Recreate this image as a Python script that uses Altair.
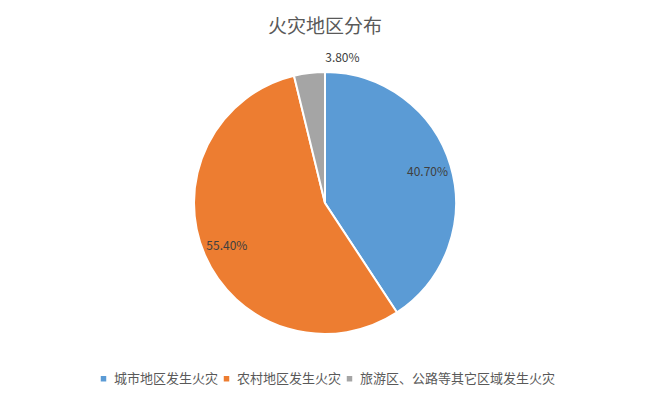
import altair as alt
import pandas as pd

categories = ["城市地区发生火灾", "农村地区发生火灾", "旅游区、公路等其它区域发生火灾"]
values = [40.7, 55.4, 3.8]
labels = ["40.70%", "55.40%", "3.80%"]
colors = ["#5B9BD5", "#ED7D31", "#A5A5A5"]
title_text = "火灾地区分布"

df = pd.DataFrame({"cat": categories, "value": values, "label": labels,
                   "order": list(range(len(categories)))})

FONT = "Noto Sans CJK SC"
CX, CY, R = 317, 195, 131

base = alt.Chart(df).encode(
    theta=alt.Theta("value:Q", stack=True),
    order=alt.Order("order:Q"),
)

pie = base.mark_arc(radius=R, stroke="white", strokeWidth=2).encode(
    x=alt.value(CX), y=alt.value(CY),
    color=alt.Color(
        "cat:N",
        scale=alt.Scale(domain=categories, range=colors),
        legend=alt.Legend(
            title=None, orient="none", direction="horizontal",
            legendX=89, legendY=364, symbolType="square", symbolSize=30,
            symbolStrokeWidth=0, labelFont=FONT, labelFontSize=13,
            labelColor="#595959", labelOffset=4, columnPadding=1,
            labelLimit=400,
        ),
    ),
)

text = base.mark_text(font=FONT, fontSize=12, color="#404040",
                      baseline="middle", align="center").encode(
    x=alt.value(CX), y=alt.value(CY),
    radius=alt.Radius("r:Q", scale=None),
    text="label:N",
).transform_calculate(r="datum.value < 10 ? 146 : 107")

title = alt.Chart(pd.DataFrame({"t": [title_text]})).mark_text(
    font=FONT, fontSize=19, color="#595959", baseline="middle", align="center"
).encode(text="t:N", x=alt.value(CX), y=alt.value(19))

chart = alt.layer(pie, text, title).properties(
    width=634, height=385, padding=0, autosize="none"
).configure_view(stroke=None)

chart.save("out.html", embed_options={"renderer": "svg", "actions": False})
